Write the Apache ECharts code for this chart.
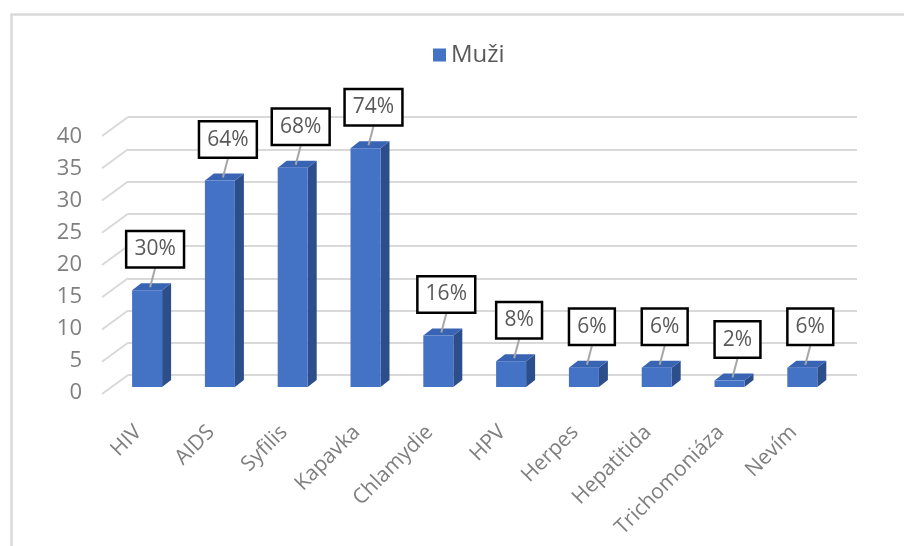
<!DOCTYPE html>
<html>
<head>
<meta charset="utf-8">
<script src="https://cdn.jsdelivr.net/npm/echarts@6/dist/echarts.min.js"></script>
<style>
html,body{margin:0;padding:0;background:#fff;}
#chart{width:904px;height:546px;}
</style>
</head>
<body>
<div id="chart"></div>
<script>
var categories = ['HIV','AIDS','Syfilis','Kapavka','Chlamydie','HPV','Herpes','Hepatitida','Trichomoniáza','Nevím'];
var values = [15, 32, 34, 37, 8, 4, 3, 3, 1, 3];
var percentLabels = ['30%','64%','68%','74%','16%','8%','6%','6%','2%','6%'];
var yTicks = [0, 5, 10, 15, 20, 25, 30, 35, 40];
var seriesName = 'Muži';

var FONT = '"Open Sans", "Noto Sans", sans-serif';
var chart = echarts.init(document.getElementById('chart'), null, {renderer: 'canvas'});

var barData = values.map(function (v, i) { return [i, v]; });

function renderBar(params, api) {
  var i = api.value(0), v = api.value(1);
  var top = api.coord([i, v]);
  var base = api.coord([i, 0]);
  var hw = 15, dx = 9, dy = 7;
  var xl = top[0] - hw, xr = top[0] + hw;
  var label = percentLabels[params.dataIndex];
  var cx = top[0] + 8, cy = top[1] - 41;
  return {
    type: 'group',
    children: [
      {type: 'polygon', shape: {points: [[xr, top[1]], [xr + dx, top[1] - dy], [xr + dx, base[1] - dy], [xr, base[1]]]},
        style: {fill: '#2c4f8c'}},
      {type: 'polygon', shape: {points: [[xl, top[1]], [xl + dx, top[1] - dy], [xr + dx, top[1] - dy], [xr, top[1]]]},
        style: {fill: '#3964b4'}},
      {type: 'rect', shape: {x: xl, y: top[1], width: hw * 2, height: base[1] - top[1]},
        style: {fill: '#4472C4'}},
      {type: 'line', shape: {x1: top[0] + 3, y1: top[1] - 3, x2: cx, y2: cy + 19},
        style: {stroke: '#a6a6a6', lineWidth: 2}},
      {type: 'text', x: cx, y: cy,
        style: {text: label, fontSize: 21, fontFamily: FONT, fill: '#595959',
          align: 'center', verticalAlign: 'middle',
          backgroundColor: '#ffffff', borderColor: '#000000', borderWidth: 2.5,
          padding: [7, 7, 6, 7]}}
    ]
  };
}

function renderDiag(params, api) {
  var p = api.coord([0, api.value(0)]);
  return {type: 'line', shape: {x1: p[0] - 26, y1: p[1] + 19, x2: p[0], y2: p[1]},
    style: {stroke: '#d9d9d9', lineWidth: 2}};
}

var option = {
  animation: false,
  backgroundColor: '#ffffff',
  textStyle: {fontFamily: FONT},
  graphic: [{type: 'rect', left: 9, top: 12, shape: {width: 1000, height: 1000},
    style: {fill: 'none', stroke: '#d9d9d9', lineWidth: 2.5}, silent: true}],
  legend: {
    data: [seriesName], left: 428, top: 38, icon: 'rect', itemWidth: 13, itemHeight: 13, itemGap: 6,
    textStyle: {fontSize: 24, color: '#595959', fontFamily: FONT}
  },
  grid: [
    {left: 128, top: 117, width: 729, height: 258},
    {left: 110.7, top: 129, width: 728, height: 258},
    {left: 102, top: 137, width: 728, height: 256}
  ],
  xAxis: [
    {gridIndex: 0, type: 'value', min: 0, max: 1, show: false},
    {gridIndex: 1, type: 'category', data: categories, show: false},
    {gridIndex: 2, type: 'category', data: categories,
      axisLine: {show: false}, axisTick: {show: false},
      axisLabel: {interval: 0, rotate: 45, fontSize: 21, color: '#7f7f7f', fontFamily: FONT, margin: 36}}
  ],
  yAxis: [
    {gridIndex: 0, type: 'value', min: 0, max: 40, interval: 5,
      axisLine: {show: false}, axisTick: {show: false}, axisLabel: {show: false},
      splitLine: {lineStyle: {color: '#d9d9d9', width: 2}}},
    {gridIndex: 1, type: 'value', min: 0, max: 40, interval: 5, show: false},
    {gridIndex: 2, type: 'value', min: 0, max: 40, interval: 5,
      axisLine: {show: false}, axisTick: {show: false}, splitLine: {show: false},
      axisLabel: {fontSize: 22, color: '#7f7f7f', fontFamily: FONT, margin: 20}}
  ],
  series: [
    {type: 'custom', name: 'diag', xAxisIndex: 0, yAxisIndex: 0, silent: true,
      data: yTicks.map(function (t) { return [t]; }), renderItem: renderDiag, z: 1},
    {type: 'custom', name: seriesName, xAxisIndex: 1, yAxisIndex: 1,
      itemStyle: {color: '#4472C4'},
      encode: {x: 0, y: 1},
      data: barData, renderItem: renderBar, z: 3}
  ]
};
chart.setOption(option);
</script>
</body>
</html>
